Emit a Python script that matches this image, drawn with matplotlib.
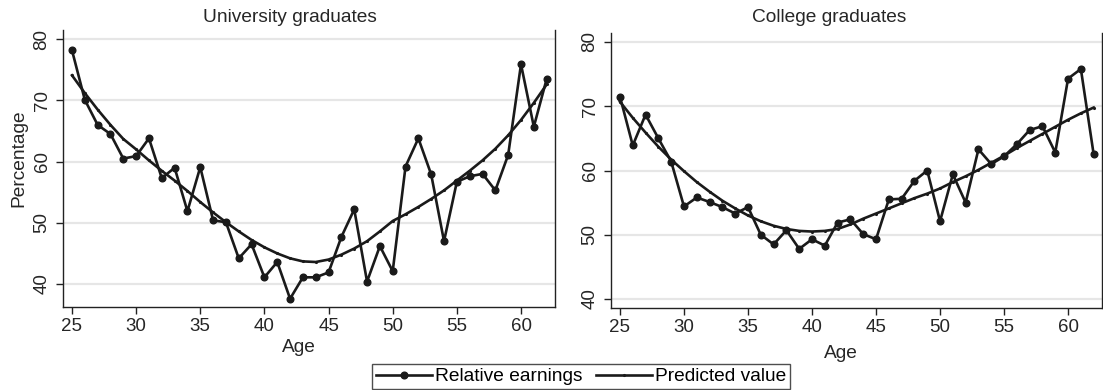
import numpy as np
import matplotlib
matplotlib.use("Agg")
import matplotlib.pyplot as plt
from matplotlib.lines import Line2D

plt.rcParams["font.family"] = ["Liberation Sans", "DejaVu Sans"]

ages = np.arange(25, 63)

# relative earnings by age, university graduates
uni_earn = [78.2, 70.1, 66.0, 64.5, 60.5, 60.9, 63.8, 57.3, 59.0, 51.9,
            59.1, 50.4, 50.1, 44.2, 46.5, 41.1, 43.6, 37.6, 41.1, 41.1,
            41.9, 47.7, 52.2, 40.4, 46.2, 42.1, 59.2, 63.8, 57.9, 47.0,
            56.7, 57.6, 58.0, 55.3, 61.1, 75.9, 65.7, 73.5]
uni_pred = [74.1, 71.2, 68.5, 66.0, 63.7, 62.0, 60.2, 58.5, 56.9, 55.2,
            53.4, 51.7, 50.1, 48.6, 47.2, 46.0, 45.0, 44.2, 43.7, 43.6,
            44.0, 44.8, 45.8, 47.0, 48.6, 50.3, 51.4, 52.6, 53.9, 55.3,
            56.9, 58.5, 60.2, 62.1, 64.3, 66.8, 69.6, 72.6]

# relative earnings by age, college graduates
col_earn = [71.5, 63.9, 68.7, 65.0, 61.4, 54.4, 55.8, 55.1, 54.3, 53.3,
            54.3, 50.0, 48.5, 50.7, 47.8, 49.3, 48.3, 51.9, 52.4, 50.1,
            49.3, 55.5, 55.6, 58.4, 60.0, 52.1, 59.4, 55.0, 63.3, 61.0,
            62.2, 64.1, 66.3, 66.9, 62.8, 74.3, 75.8, 62.5]
col_pred = [70.7, 68.2, 65.9, 63.7, 61.7, 59.9, 58.2, 56.7, 55.3, 54.1,
            53.0, 52.1, 51.4, 50.9, 50.6, 50.5, 50.6, 50.9, 51.6, 52.5,
            53.3, 54.1, 54.9, 55.7, 56.4, 57.2, 58.2, 59.1, 60.1, 61.2,
            62.3, 63.5, 64.6, 65.7, 66.8, 67.9, 68.9, 69.8]

W, H = 1103, 390
# title, data, axes rect (pixels: left, top, right, bottom), ylim, title x, xlabel pos
panels = [
    ("University graduates", uni_earn, uni_pred, (63, 30, 555, 307),
     (36.25, 81.5), 290, (0.48, -0.163)),
    ("College graduates", col_earn, col_pred, (611, 33, 1102, 308),
     (38.6, 81.4), 829.5, (0.468, -0.182)),
]

fig = plt.figure(figsize=(W / 100, H / 100), dpi=100)
ink = "#1a1a1a"
txt = "#262626"
fs = 13.8

for i, (title, earn, pred, box, ylim, title_x, xlab) in enumerate(panels):
    l, t, r, b = box
    ax = fig.add_axes([l / W, 1 - b / H, (r - l) / W, (b - t) / H])
    ax.plot(ages, earn, color=ink, lw=1.9, marker="o", ms=4.8, zorder=3)
    ax.plot(ages, pred, color=ink, lw=1.9, marker=".", ms=2.5, zorder=3)
    ax.set_xlim(24.3, 62.65)
    ax.set_ylim(*ylim)
    ax.set_xticks([25, 30, 35, 40, 45, 50, 55, 60])
    ax.set_yticks([40, 50, 60, 70, 80])
    ax.grid(axis="y", color="#e6e6e6", lw=1.6, zorder=0)
    ax.set_axisbelow(True)
    ax.spines["top"].set_visible(False)
    for s in ("left", "bottom", "right"):
        ax.spines[s].set_color("#222222")
        ax.spines[s].set_linewidth(1.0)
    ax.tick_params(axis="both", direction="out", length=5, width=1.0,
                   labelsize=13.5, colors="#222222", labelcolor=txt, pad=3)
    ax.tick_params(axis="y", right=False, pad=4)
    for lab in ax.get_yticklabels():
        lab.set_rotation(90)
        lab.set_va("center")
    ax.set_xlabel("Age", fontsize=fs, color=txt, va="baseline")
    ax.xaxis.set_label_coords(*xlab)
    if i == 0:
        ax.set_ylabel("Percentage", fontsize=fs, color=txt, va="center")
        ax.yaxis.set_label_coords(-0.0894, 0.538)
    fig.text(title_x / W, 1 - 22 / H, title, fontsize=fs, color=txt,
             ha="center", va="baseline")

handles = [
    Line2D([], [], color=ink, lw=1.9, marker="o", ms=4.8),
    Line2D([], [], color=ink, lw=1.9, marker=".", ms=2.5),
]
leg = fig.legend(handles, ["Relative earnings", "Predicted value"], loc="lower center",
                 bbox_to_anchor=(581 / W, 0.0), ncol=2, fontsize=fs, frameon=True,
                 fancybox=False, handlelength=2.95, handletextpad=0.15, columnspacing=0.68,
                 borderpad=0.2, borderaxespad=0.05)
leg.get_frame().set_edgecolor("#222222")
leg.get_frame().set_linewidth(1.0)

fig.savefig("out.png", dpi=100)
